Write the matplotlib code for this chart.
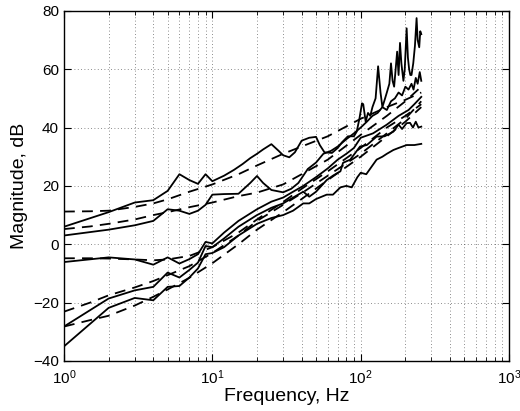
"""Measured vs fitted magnitude responses (log frequency)."""

import matplotlib

matplotlib.use("Agg")
from matplotlib import pyplot as plt
from matplotlib.ticker import LogLocator, NullFormatter

plt.rcParams["font.family"] = ["Liberation Sans", "DejaVu Sans"]
plt.rcParams["mathtext.default"] = "regular"

freq_a = [1, 2, 3, 4, 5, 6, 7, 8, 9, 10, 12, 14, 16, 18, 20, 22, 25, 28, 30, 33,
          36, 40, 45, 50, 53, 57, 64, 70, 75, 82, 90, 94, 98, 102, 104, 108, 112,
          116, 120, 126, 131, 136, 140, 146, 150, 156, 160, 164, 168, 172, 176,
          180, 184, 188, 194, 198, 204, 208, 212, 216, 220, 226, 232, 238, 242,
          248, 252, 256]
mag_a = [6, 11, 14.3, 15.1, 18.3, 24, 22, 20.7, 24, 21.6, 23.5, 25.5, 27.5, 29.5,
         31, 32.5, 34.3, 32, 30.5, 29.8, 31.5, 35.5, 36.5, 36.8, 34, 31.5, 31.3,
         33, 35, 37, 37, 38.6, 43, 48.3, 48, 42, 45, 44, 47, 50, 61, 52, 47, 50,
         52, 55, 62, 56, 54, 60, 66, 58, 69, 62, 56, 60, 74, 64, 60, 58, 58, 62,
         68, 77.5, 70, 67.5, 73, 72]

freq_b = [1, 2, 3, 4, 5, 6, 7, 8, 9, 10, 12, 15, 18, 20, 22, 25, 30, 34, 38, 44,
          50, 56, 63, 70, 80, 90, 100, 110, 120, 130, 140, 150, 160, 170, 180,
          190, 200, 210, 220, 227, 235, 242, 250, 256]
mag_b = [3, 5, 6.5, 8, 12, 11.5, 10.4, 11.5, 13.5, 17, 17.2, 17.3, 21, 23.4, 21,
         18.6, 17.8, 19, 21, 25.8, 28, 31, 32, 33.5, 36, 38, 40, 42, 44, 45, 47,
         46, 49, 50, 52, 51, 54, 53, 55, 53, 57, 55, 59, 56]

freq_c = [1, 2, 3, 4, 5, 6, 7, 8, 9, 10, 12, 15, 20, 25, 30, 35, 41, 50, 60, 70,
          80, 90, 100, 121, 150, 180, 210, 230, 256]
mag_c = [-6.1, -4.5, -5.2, -7, -4.5, -6.6, -5.1, -3.4, 0.8, 0.3, 4, 8, 12, 14.6,
         16, 18, 20, 23, 26, 29, 31, 33, 36.5, 38, 41, 44, 46, 48, 50.5]

freq_d = [1, 2, 3, 4, 5, 6, 7, 8, 9, 10, 12, 15, 20, 25, 30, 35, 41, 45, 50, 59,
          65, 73, 76, 85, 99, 110, 128, 145, 166, 180, 190, 204, 215, 225, 235,
          245, 256]
mag_d = [-28.2, -18.6, -15.8, -14.6, -9.7, -11.4, -8.8, -6.3, -0.6, -1, 2, 6, 10,
         12.5, 14, 16, 18, 16.3, 18, 22, 23.5, 25, 27.9, 29, 33.5, 34, 36.9, 37,
         38.6, 41, 39.5, 41.5, 41.6, 40, 42, 40, 40.3]

freq_e = [1, 2, 3, 4, 5, 6, 7, 8, 9, 10, 12, 15, 20, 25, 30, 35, 41, 45, 50, 59,
          65, 73, 80, 87, 95, 100, 109, 120, 128, 140, 150, 166, 180, 204, 230,
          256]
mag_e = [-35, -21.8, -18.4, -19.2, -14.6, -14.3, -11.4, -8.3, -3.4, -3, -1, 3, 7,
         9, 10, 11.5, 14, 14, 15.5, 17, 17, 19.5, 20, 19.5, 23, 24.5, 24, 27, 29,
         30, 31, 32.3, 33, 34, 34, 34.4]

# fitted models (dashed)
fit_freq = [1, 1.5, 2, 3, 4, 5, 7, 10, 15, 20, 30, 40, 60, 100, 150, 200, 256]
fit_a = [11.2, 11.3, 11.5, 12.8, 14, 15.4, 18, 20.5, 24, 27, 31, 33.5, 37, 43,
         47, 49.5, 52]
fit_b = [5.2, 6.1, 7, 8.5, 10, 11, 12.7, 14.3, 16.5, 17.7, 20.5, 24, 29, 37.5,
         44, 49, 54]
fit_c = [-4.8, -4.8, -4.9, -5.2, -5.5, -5.2, -4, -1, 4, 8.5, 14.5, 19, 25, 33,
         40, 44, 48]
fit_d = [-23.1, -20, -17.5, -14.8, -12.6, -10.6, -7.5, -3, 3, 8, 13.5, 17.5,
         23.5, 31, 38, 43, 49]
fit_e = [-28.2, -26, -24.5, -21, -18, -15.5, -11.5, -6.5, 0, 5, 11, 15.5, 22,
         30, 37, 42, 47]

measured = [(freq_a, mag_a), (freq_b, mag_b), (freq_c, mag_c),
            (freq_d, mag_d), (freq_e, mag_e)]
fits = [fit_a, fit_b, fit_c, fit_d, fit_e]

fig = plt.figure(figsize=(5.2, 4.11), dpi=100)
ax = fig.add_axes([0.123, 0.1217, 0.856, 0.852])

for f, m in measured:
    ax.semilogx(f, m, color="black", linewidth=1.3)
for fit in fits:
    ax.semilogx(fit_freq, fit, color="black", linewidth=1.3, linestyle=(0, (6, 4)))

ax.set_xlim(1, 1000)
ax.set_ylim(-40, 80)
ax.set_yticks([-40, -20, 0, 20, 40, 60, 80])
ax.xaxis.set_major_locator(LogLocator(base=10, numticks=10))
ax.xaxis.set_minor_locator(LogLocator(base=10, subs=range(2, 10), numticks=10))
ax.xaxis.set_minor_formatter(NullFormatter())
ax.grid(True, which="major", axis="both", linestyle=(0, (1, 3)), color="black",
        linewidth=0.6, alpha=0.6)
ax.grid(True, which="minor", axis="x", linestyle=(0, (1, 3)), color="black",
        linewidth=0.6, alpha=0.6)
ax.tick_params(which="both", direction="in", top=True, right=True, labelsize=11)
ax.tick_params(which="major", length=5)
ax.tick_params(which="minor", length=3)
ax.tick_params(axis="x", pad=5)
for spine in ax.spines.values():
    spine.set_linewidth(1.0)

ax.set_xlabel("Frequency, Hz", fontsize=14, labelpad=1)
ax.set_ylabel("Magnitude, dB", fontsize=14, labelpad=4)

fig.savefig("out.png", dpi=100)
